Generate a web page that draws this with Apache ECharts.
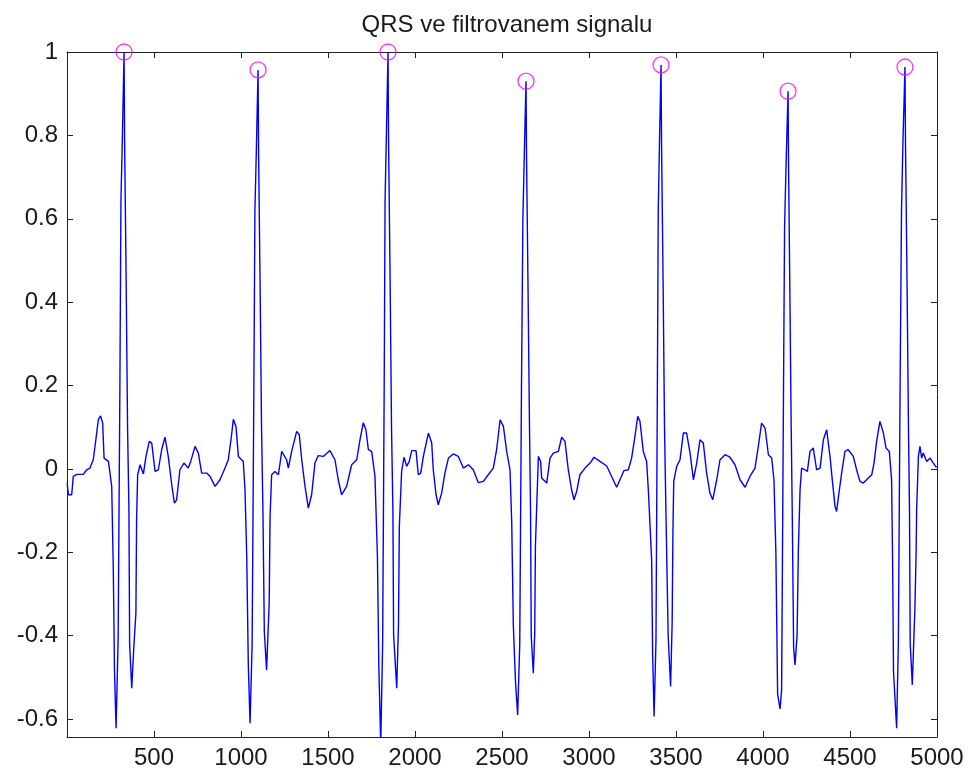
<!DOCTYPE html>
<html>
<head>
<meta charset="utf-8">
<script src="https://cdn.jsdelivr.net/npm/echarts@6/dist/echarts.min.js"></script>
<style>
  html, body { margin: 0; padding: 0; background: #fff; }
  #chart { width: 969px; height: 775px; }
</style>
</head>
<body>
<div id="chart"></div>
<script>
// filtered ECG signal, [sample, value]
const signal = [
  [1, -0.034], [8, -0.062], [27, -0.062], [36, -0.018], [56, -0.013], [94, -0.013], [113, -0.002],
  [132, 0.002], [151, 0.022], [167, 0.074], [180, 0.118], [193, 0.127], [205, 0.11], [213, 0.026],
  [238, 0.018], [247, 0.014], [257, -0.042],
  // beat 1
  [266, -0.238], [273, -0.486], [282, -0.622], [294, -0.406], [304, 0.2], [310, 0.645], [318, 0.79],
  [328, 1.0], [331, 0.79], [340, 0.45], [348, 0.1], [356, -0.1], [360, -0.42], [372, -0.526],
  [385, -0.42], [396, -0.346], [400, -0.122],
  [406, -0.014], [420, 0.01], [439, -0.012], [454, 0.03], [473, 0.066], [487, 0.062], [506, -0.006],
  [525, -0.002], [544, 0.046], [563, 0.076], [582, 0.03], [602, -0.038], [617, -0.082], [630, -0.074],
  [649, -0.002], [672, 0.014], [697, 0.002], [711, 0.018], [736, 0.054], [755, 0.038], [774, -0.01],
  [803, -0.01], [822, -0.018], [851, -0.042], [879, -0.026], [908, 0.002], [927, 0.022], [946, 0.082],
  [956, 0.119], [971, 0.102], [985, 0.03], [1013, 0.018], [1023, -0.05], [1033, -0.21],
  // beat 2
  [1042, -0.47], [1052, -0.61], [1064, -0.42], [1074, 0.2], [1080, 0.62], [1088, 0.76], [1098, 0.957],
  [1101, 0.76], [1110, 0.43], [1118, 0.1], [1126, -0.1], [1134, -0.39], [1147, -0.482], [1156, -0.386],
  [1162, -0.322], [1167, -0.114],
  [1176, -0.014], [1195, -0.006], [1215, -0.014], [1234, 0.042], [1262, 0.022], [1272, 0.002],
  [1291, 0.042], [1320, 0.09], [1335, 0.082], [1349, 0.022], [1368, -0.042], [1387, -0.094],
  [1406, -0.062], [1425, 0.014], [1444, 0.032], [1473, 0.03], [1511, 0.044], [1540, 0.022],
  [1559, -0.026], [1578, -0.062], [1607, -0.042], [1636, 0.01], [1665, 0.022], [1684, 0.07],
  [1703, 0.111], [1718, 0.094], [1732, 0.046], [1751, 0.042], [1770, -0.018], [1784, -0.21],
  // beat 3
  [1792, -0.47], [1803, -0.66], [1814, -0.42], [1823, 0.2], [1828, 0.645], [1835, 0.79], [1845, 1.0],
  [1848, 0.79], [1857, 0.45], [1865, 0.1], [1873, -0.1], [1877, -0.398], [1895, -0.526],
  [1905, -0.374], [1910, -0.138],
  [1923, -0.006], [1937, 0.028], [1952, 0.006], [1967, 0.018], [1981, 0.044], [2006, 0.044],
  [2019, -0.014], [2033, -0.01], [2048, 0.03], [2077, 0.086], [2096, 0.062], [2105, -0.002],
  [2121, -0.062], [2134, -0.086], [2153, -0.058], [2172, -0.01], [2192, 0.026], [2220, 0.036],
  [2249, 0.03], [2278, 0.002], [2307, 0.01], [2335, -0.002], [2364, -0.033], [2393, -0.03],
  [2421, -0.014], [2450, 0.002], [2469, 0.046], [2489, 0.118], [2508, 0.102], [2527, 0.042],
  [2546, -0.002], [2556, -0.13],
  // beat 4
  [2565, -0.374], [2578, -0.514], [2590, -0.59], [2602, -0.42], [2612, 0.2], [2620, 0.6], [2628, 0.75],
  [2638, 0.93], [2641, 0.75], [2650, 0.42], [2658, 0.1], [2664, -0.1], [2668, -0.4], [2680, -0.49],
  [2688, -0.394], [2692, -0.186],
  [2709, 0.03], [2722, 0.018], [2728, -0.022], [2757, -0.034], [2776, 0.026], [2795, 0.038],
  [2824, 0.042], [2843, 0.076], [2862, 0.066], [2881, -0.002], [2900, -0.05], [2914, -0.074],
  [2929, -0.054], [2948, -0.014], [2977, 0.002], [3006, 0.014], [3029, 0.028], [3063, 0.018],
  [3102, 0.007], [3130, -0.018], [3159, -0.044], [3178, -0.026], [3201, -0.004], [3226, -0.002],
  [3245, 0.026], [3264, 0.078], [3280, 0.126], [3293, 0.114], [3312, 0.042], [3331, 0.018],
  [3341, -0.05], [3360, -0.218],
  // beat 5
  [3366, -0.45], [3374, -0.594], [3385, -0.41], [3393, 0.2], [3398, 0.62], [3405, 0.78], [3414, 0.969],
  [3417, 0.78], [3426, 0.44], [3434, 0.1], [3442, -0.1], [3455, -0.4], [3469, -0.522], [3478, -0.366],
  [3482, -0.162],
  [3487, -0.03], [3504, 0.006], [3523, 0.022], [3542, 0.086], [3561, 0.086], [3581, 0.038],
  [3600, -0.026], [3619, 0.014], [3638, 0.07], [3657, 0.062], [3676, -0.01], [3695, -0.058],
  [3711, -0.074], [3734, -0.026], [3753, 0.022], [3782, 0.034], [3810, 0.028], [3839, 0.01],
  [3868, -0.026], [3897, -0.044], [3925, -0.018], [3954, 0.002], [3973, 0.054], [3992, 0.11],
  [4012, 0.098], [4031, 0.034], [4050, 0.026], [4063, -0.026], [4074, -0.2],
  // beat 6
  [4084, -0.54], [4098, -0.576], [4107, -0.53], [4118, 0.2], [4124, 0.58], [4132, 0.72], [4144, 0.906],
  [4147, 0.72], [4155, 0.4], [4162, 0.1], [4168, -0.1], [4176, -0.43], [4184, -0.47], [4196, -0.398],
  [4203, -0.198],
  [4213, -0.05], [4222, 0.002], [4241, -0.002], [4255, -0.006], [4270, 0.042], [4289, 0.05],
  [4308, -0.002], [4328, 0.002], [4347, 0.07], [4366, 0.094], [4385, 0.03], [4400, -0.034],
  [4414, -0.09], [4423, -0.102], [4439, -0.05], [4452, -0.01], [4471, 0.042], [4490, 0.046],
  [4519, 0.03], [4538, -0.002], [4557, -0.03], [4577, -0.034], [4605, -0.022], [4625, -0.014],
  [4638, 0.014], [4653, 0.066], [4672, 0.114], [4692, 0.086], [4707, 0.05], [4726, 0.042],
  [4739, -0.026], [4745, -0.226],
  // beat 7
  [4750, -0.486], [4768, -0.622], [4778, -0.414], [4788, 0.2], [4796, 0.62], [4804, 0.78], [4816, 0.964],
  [4819, 0.78], [4828, 0.44], [4836, 0.1], [4842, -0.1], [4846, -0.418], [4858, -0.518],
  [4873, -0.334], [4880, -0.2], [4883, -0.098],
  [4893, 0.03], [4902, 0.054], [4912, 0.026], [4921, 0.038], [4941, 0.018], [4960, 0.026],
  [4979, 0.014], [4994, 0.005], [5000, 0.005]
];

// detected R peaks
const peakIdx = [328, 1098, 1845, 2638, 3414, 4144, 4816];
const peakVal = [1.0, 0.957, 1.0, 0.93, 0.969, 0.906, 0.964];

const yTicks = [-0.6, -0.4, -0.2, 0, 0.2, 0.4, 0.6, 0.8, 1];

const font = 'Liberation Sans, Arial, Helvetica, sans-serif';
const ink = '#1a1a1a';

const chart = echarts.init(document.getElementById('chart'));

const xBase = {
  type: 'value',
  min: 0,
  max: 5000,
  interval: 500,
  splitLine: { show: false },
  axisLine: { onZero: false, lineStyle: { color: '#222', width: 1 } },
  axisTick: { inside: true, length: 6, lineStyle: { color: '#222' } }
};
const yBase = {
  type: 'value',
  min: -0.643,
  max: 1,
  splitLine: { show: false },
  axisLine: { onZero: false, lineStyle: { color: '#222', width: 1 } },
  axisTick: { inside: true, length: 6, customValues: yTicks, lineStyle: { color: '#222' } }
};

chart.setOption({
  animation: false,
  backgroundColor: '#fff',
  title: {
    text: 'QRS ve filtrovanem signalu',
    left: 502,
    textAlign: 'center',
    top: 8,
    textStyle: { fontFamily: font, fontSize: 24, fontWeight: 'normal', color: ink }
  },
  grid: { left: 67, right: 32, top: 52, bottom: 38 },
  xAxis: [
    Object.assign({}, xBase, {
      position: 'bottom',
      axisLabel: {
        margin: 9, color: ink, fontFamily: font, fontSize: 24,
        formatter: v => (v === 0 ? '' : String(v))
      }
    }),
    Object.assign({}, xBase, { position: 'top', axisLabel: { show: false } })
  ],
  yAxis: [
    Object.assign({}, yBase, {
      position: 'left',
      axisLabel: {
        margin: 9, color: ink, fontFamily: font, fontSize: 24,
        customValues: yTicks,
        formatter: v => String(Math.round(v * 10) / 10)
      }
    }),
    Object.assign({}, yBase, { position: 'right', axisLabel: { show: false } })
  ],
  series: [
    {
      type: 'line',
      data: signal,
      showSymbol: false,
      clip: true,
      lineStyle: { color: '#0000ff', width: 1.4 },
      z: 2
    },
    {
      type: 'scatter',
      data: peakIdx.map((x, i) => [x, peakVal[i]]),
      symbol: 'circle',
      symbolSize: 16,
      clip: false,
      itemStyle: { color: 'transparent', borderColor: '#ff00ff', borderWidth: 1.3 },
      z: 3
    }
  ]
});
</script>
</body>
</html>
